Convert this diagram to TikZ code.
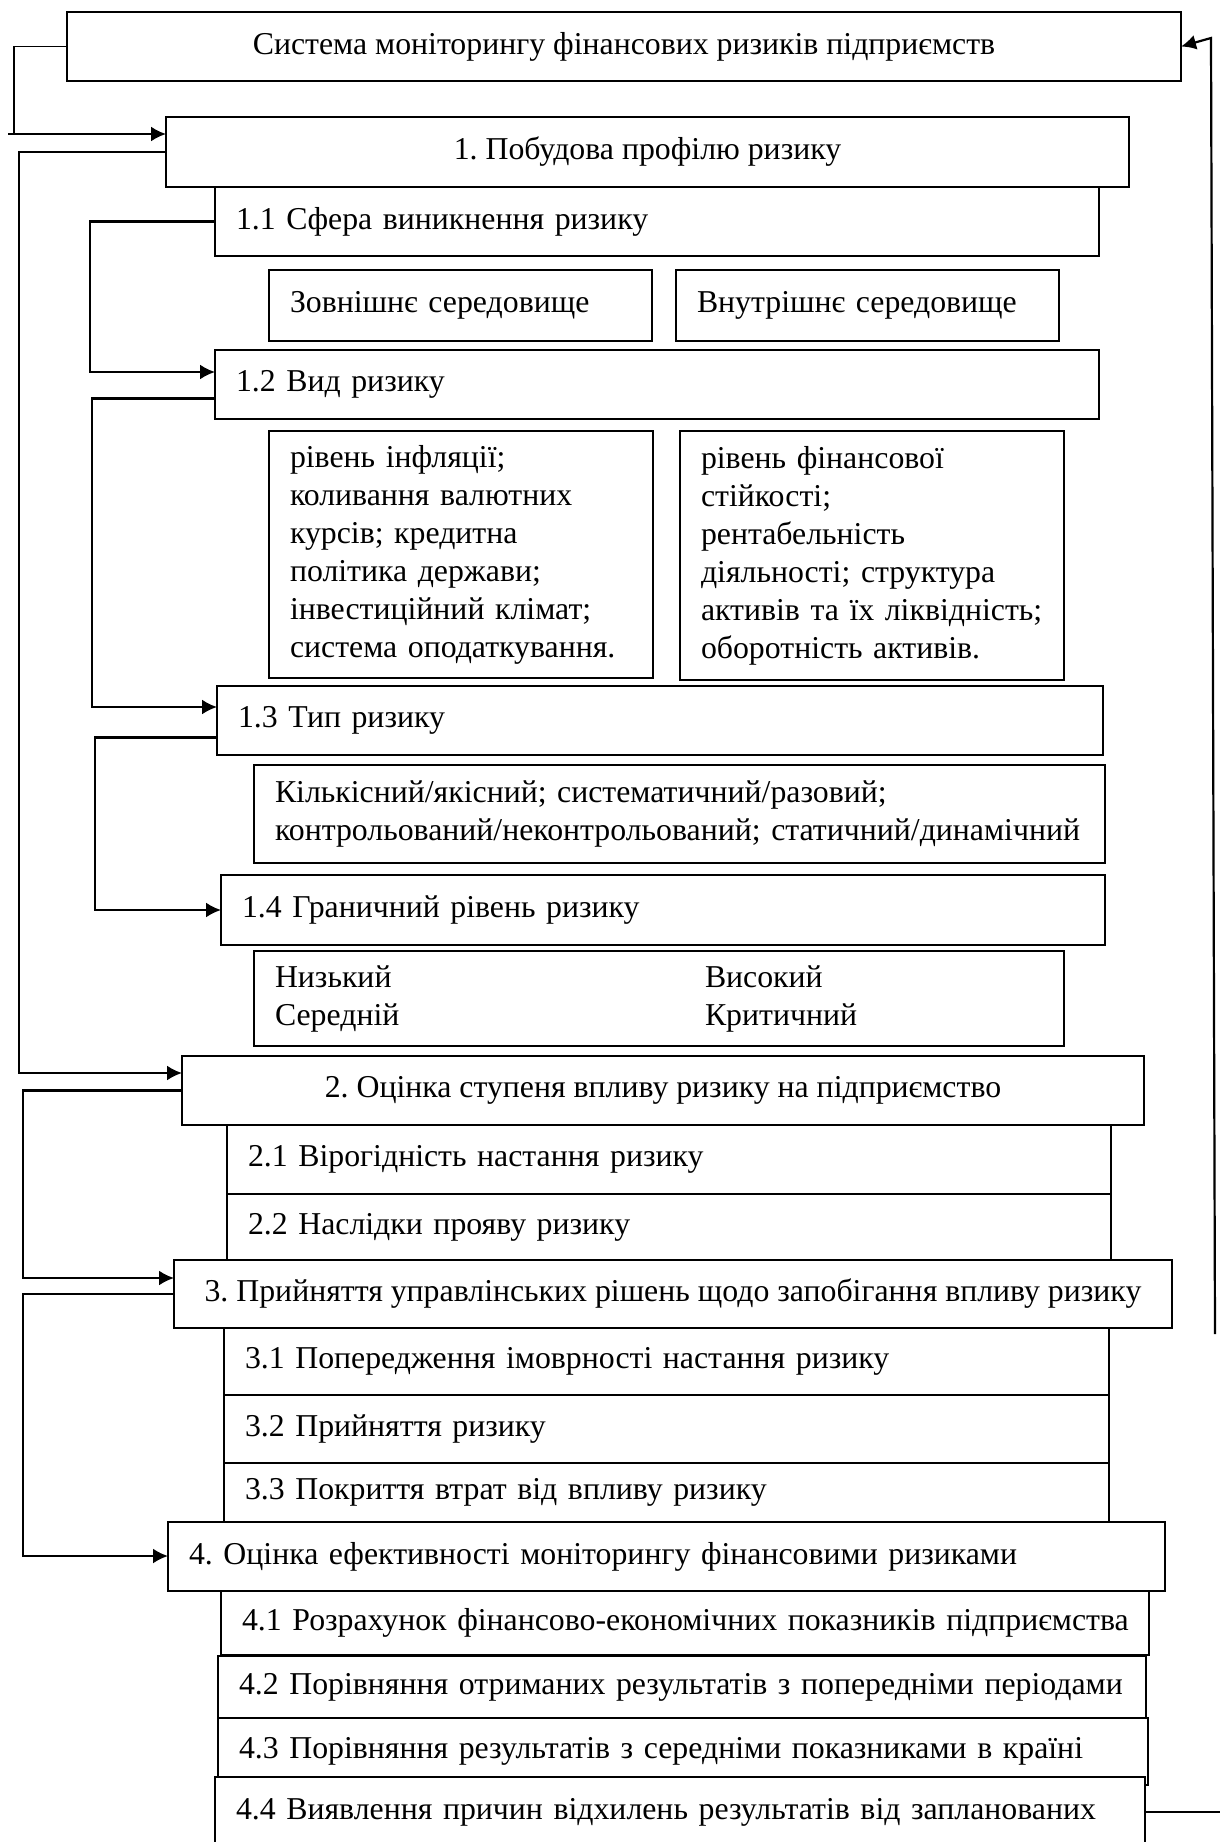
\documentclass[tikz,border=0pt]{standalone}
\usepackage{fontspec}
\setmainfont{Liberation Serif}
\usetikzlibrary{arrows.meta}
\tikzstyle{box}=[rectangle,draw=black,fill=white,line width=1.5pt,anchor=north west,
inner sep=0pt,outer sep=0pt,minimum height=69pt,font=\fontsize{31.8}{38}\selectfont\frenchspacing]
\tikzstyle{headbox}=[box,align=center]
\tikzstyle{subbox}=[box,align=left,execute at begin node={\leftskip=21pt\rightskip=-12pt plus 1fil}]
\tikzstyle{link}=[line width=1.8pt]
\tikzstyle{feed}=[line width=2.2pt,-{Latex[length=15pt,width=15pt]}]

\begin{document}
\begin{tikzpicture}[x=1pt,y=-1pt]
			\useasboundingbox (0,0) rectangle (1219,1842);

			\node[headbox,minimum width=1114pt] (top) at (67,12) {Система моніторингу фінансових ризиків підприємств};

			% stage 1
			\node[headbox,minimum width=963pt,minimum height=70pt] (s1) at (166,117) {1. Побудова профілю ризику};
			\node[subbox,text width=884pt] (s11) at (215,187) {1.1 Сфера виникнення ризику};
			\node[subbox,text width=383pt,minimum height=71pt] (ext) at (269,270) {Зовнішнє середовище};
			\node[subbox,text width=383pt,minimum height=71pt] (int) at (676,270) {Внутрішнє середовище};
			\node[subbox,text width=884pt] (s12) at (215,350) {1.2 Вид ризику};
			\node[subbox,text width=384pt,minimum height=247pt] (extf) at (269,431) {рівень інфляції;\\коливання валютних\\курсів; кредитна\\політика держави;\\інвестиційний клімат;\\система оподаткування.};
			\node[subbox,text width=384pt,minimum height=249pt] (intf) at (680,431) {рівень фінансової\\стійкості;\\рентабельність\\діяльності; структура\\активів та їх ліквідність;\\оборотність активів.};
			\node[subbox,text width=886pt] (s13) at (217,686) {1.3 Тип ризику};
			\node[subbox,text width=851pt,minimum height=98pt] (kind) at (254,765) {Кількісний/якісний; систематичний/разовий;\\контрольований/неконтрольований; статичний/динамічний};
			\node[subbox,text width=884pt,minimum height=70pt] (s14) at (221,875) {1.4 Граничний рівень ризику};
			\node[subbox,text width=810pt,minimum height=95pt] (lvl) at (254,951) {\makebox[430pt][l]{Низький}Високий\\\makebox[430pt][l]{Середній}Критичний};

			% stage 2
			\node[headbox,minimum width=962pt] (s2) at (182,1056) {2. Оцінка ступеня впливу ризику на підприємство};
			\node[subbox,text width=884pt] (s21) at (227,1125) {2.1 Вірогідність настання ризику};
			\node[subbox,text width=884pt,minimum height=66pt] (s22) at (227,1194) {2.2 Наслідки прояву ризику};

			% stage 3
			\node[headbox,minimum width=998pt,minimum height=68pt] (s3) at (174,1260) {3. Прийняття управлінських рішень щодо запобігання впливу ризику};
			\node[subbox,text width=885pt,minimum height=67pt] (s31) at (224,1328) {3.1 Попередження імоврності настання ризику};
			\node[subbox,text width=885pt,minimum height=68pt] (s32) at (224,1395) {3.2 Прийняття ризику};
			\node[subbox,text width=885pt,minimum height=59pt] (s33) at (224,1463) {3.3 Покриття втрат від впливу ризику};

			% stage 4
			\node[subbox,text width=997pt] (s4) at (168,1522) {4. Оцінка ефективності моніторингу фінансовими ризиками};
			\node[subbox,text width=928pt,minimum height=64pt] (s41) at (221,1591) {4.1 Розрахунок фінансово-економічних показників підприємства};
			\node[subbox,text width=928pt,minimum height=62pt] (s42) at (218,1656) {4.2 Порівняння отриманих результатів з попередніми періодами};
			\node[subbox,text width=930pt,minimum height=67pt] (s43) at (218,1718) {4.3 Порівняння результатів з середніми показниками в країні};
			\node[subbox,text width=930pt,minimum height=70pt] (s44) at (215,1777) {4.4 Виявлення причин відхилень результатів від запланованих};

			% links between stages
			\coordinate (j1) at (14,134);
			\coordinate (k0) at (8,134);
			\coordinate (j2) at (19,1073);
			\coordinate (j3) at (23,1278);
			\coordinate (j4) at (23,1556);
			\draw[link] (top.west) -| (j1);
			\draw[feed] (k0) -- (k0 -| s1.west);
			\draw[feed] (s1.west) -| (j2) -- (j2 -| s2.west);
			\draw[feed] (s2.west) -| (j3) -- (j3 -| s3.west);
			\draw[feed] (s3.west) -| (j4) -- (j4 -| s4.west);

			% links inside stage 1
			\coordinate (i2) at (90,372);
			\coordinate (i3) at (92,707);
			\coordinate (i4) at (95,910);
			\draw[feed] (s11.west) -| (i2) -- (i2 -| s12.west);
			\draw[feed] ([yshift=-14pt]s12.west) -| (i3) -- (i3 -| s13.west);
			\draw[feed] ([yshift=-17pt]s13.west) -| (i4) -- (i4 -| s14.west);

			% feedback
			\coordinate (r0) at (1240,1812);
			\coordinate (r1) at (1215,1334);
			\coordinate (r2) at (1211,38);
			\draw[link] (s44.east) -- (r0);
			\draw[feed] (r1) -- (r2) -- (top.east);
		\end{tikzpicture}
\end{document}
